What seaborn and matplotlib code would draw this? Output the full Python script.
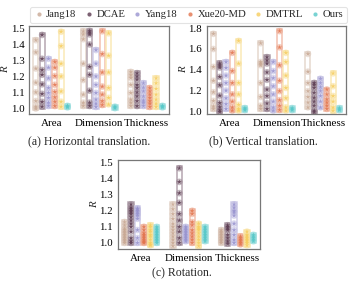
import numpy as np
import pandas as pd
import matplotlib
matplotlib.use("Agg")
import matplotlib.pyplot as plt
import seaborn as sns
from matplotlib.lines import Line2D

# --- 数据 ---
methods = ["Jang18", "DCAE", "Yang18", "Xue20-MD", "DMTRL", "Ours"]
groups = ["Area", "Dimension", "Thickness"]
colors = ["#c8a893", "#5b3a50", "#9893cf", "#e2744d", "#f6cd5e", "#56c8c8"]

# (a) Horizontal translation
h_area = [
    [1.427, 1.351, 1.249, 1.161, 1.100, 1.045, 1.010, 0.998],
    [1.46, 1.31, 1.24, 1.21, 1.15, 1.09, 1.04, 1.01],
    [1.31, 1.255, 1.188, 1.127, 1.096, 1.065, 1.035, 1.014],
    [1.29, 1.255, 1.202, 1.147, 1.102, 1.069, 1.041, 1.014],
    [1.48, 1.39, 1.28, 1.20, 1.106, 1.041, 1.01],
    [1.015, 1.01, 1.005],
]
h_dim = [
    [1.483, 1.463, 1.433, 1.28, 1.177, 1.086, 1.035, 1.014],
    [1.485, 1.475, 1.463, 1.40, 1.26, 1.21, 1.11, 1.035, 1.014],
    [1.365, 1.28, 1.20, 1.147, 1.096, 1.055, 1.029, 1.008],
    [1.483, 1.34, 1.225, 1.136, 1.086, 1.045, 1.02],
    [1.47, 1.33, 1.225, 1.127, 1.065, 1.024],
    [1.01, 1.005, 1.0],
]
h_thick = [
    [1.228, 1.208, 1.19, 1.147, 1.096, 1.055, 1.035, 1.014],
    [1.22, 1.20, 1.18, 1.147, 1.127, 1.10, 1.075, 1.045, 1.014],
    [1.157, 1.13, 1.106, 1.075, 1.049, 1.035, 1.014],
    [1.127, 1.106, 1.086, 1.065, 1.045, 1.029, 1.008],
    [1.188, 1.157, 1.122, 1.086, 1.055, 1.029, 1.008],
    [1.015, 1.01, 1.005],
]

# (b) Vertical translation
v_area = [
    [1.744, 1.598, 1.426, 1.293, 1.183, 1.099, 1.047, 1.021],
    [1.46, 1.44, 1.42, 1.33, 1.25, 1.15, 1.08, 1.04, 1.01, 0.995],
    [1.473, 1.417, 1.343, 1.271, 1.199, 1.125, 1.069, 1.022],
    [1.561, 1.386, 1.271, 1.162, 1.093, 1.037, 1.006],
    [1.676, 1.458, 1.271, 1.162, 1.062, 1.022, 1.006],
    [1.03, 1.02, 1.01],
]
v_dim = [
    [1.654, 1.473, 1.458, 1.442, 1.271, 1.137, 1.053, 1.022],
    [1.52, 1.489, 1.458, 1.374, 1.302, 1.209, 1.146, 1.075, 1.022],
    [1.473, 1.386, 1.318, 1.24, 1.162, 1.093, 1.037, 1.006],
    [1.77, 1.614, 1.442, 1.293, 1.193, 1.106, 1.053, 1.012],
    [1.561, 1.473, 1.343, 1.224, 1.125, 1.037, 1.006],
    [1.03, 1.02, 1.01],
]
v_thick = [
    [1.551, 1.38, 1.271, 1.193, 1.137, 1.084, 1.037],
    [1.272, 1.255, 1.224, 1.178, 1.131, 1.093, 1.053, 1.006, 0.99],
    [1.312, 1.271, 1.231, 1.193, 1.146, 1.093, 1.037],
    [1.209, 1.162, 1.115, 1.084, 1.053, 1.022],
    [1.364, 1.24, 1.146, 1.093, 1.037, 1.005],
    [1.03, 1.02, 1.01],
]

# (c) Rotation
r_area = [
    [1.13, 1.11, 1.09, 1.08, 1.07, 1.06, 1.05, 1.04, 1.03, 1.02, 1.01, 1.0],
    [1.24, 1.22, 1.21, 1.20, 1.19, 1.18, 1.16, 1.14, 1.12, 1.10, 1.07, 1.03, 1.01, 1.0],
    [1.215, 1.21, 1.20, 1.19, 1.18, 1.17, 1.15, 1.08, 1.03, 1.0],
    [1.10, 1.08, 1.06, 1.05, 1.04, 1.03, 1.02, 1.01, 1.005, 1.0],
    [1.11, 1.10, 1.08, 1.07, 1.05, 1.04, 1.02, 1.0, 0.99, 0.985],
    [1.10, 1.09, 1.08, 1.07, 1.06, 1.05, 1.04, 1.03, 1.02, 1.01, 1.0],
]
r_dim = [
    [1.24, 1.21, 1.18, 1.15, 1.12, 1.10, 1.08, 1.06, 1.04, 1.02, 1.0, 0.98],
    [1.465, 1.38, 1.31, 1.25, 1.18, 1.14, 1.10, 1.07, 1.03, 1.0],
    [1.10, 1.09, 1.08, 1.07, 1.06, 1.05, 1.04, 1.03, 1.02, 1.01],
    [1.20, 1.18, 1.13, 1.11, 1.08, 1.06, 1.04, 1.02, 1.0],
    [1.12, 1.10, 1.09, 1.08, 1.06, 1.04, 1.02, 1.0, 0.98],
    [1.10, 1.09, 1.08, 1.07, 1.06, 1.05, 1.04, 1.03, 1.02, 1.01],
]
r_thick = [
    [1.08, 1.07, 1.06, 1.05, 1.04, 1.03, 1.02, 1.01, 1.0],
    [1.11, 1.10, 1.09, 1.08, 1.05, 1.03, 1.01, 0.995],
    [1.24, 1.22, 1.20, 1.19, 1.17, 1.12, 1.08, 1.05, 1.02, 1.0],
    [1.04, 1.03, 1.02, 1.01, 1.0, 0.99],
    [1.07, 1.05, 1.04, 1.03, 1.02, 1.01, 1.0, 0.985],
    [1.05, 1.04, 1.03, 1.02, 1.01],
]

panels = [
    ("(a) Horizontal translation.", [h_area, h_dim, h_thick], (0.963, 1.515), [1.0, 1.1, 1.2, 1.3, 1.4, 1.5]),
    ("(b) Vertical translation.", [v_area, v_dim, v_thick], (0.972, 1.818), [1.0, 1.2, 1.4, 1.6, 1.8]),
    ("(c) Rotation.", [r_area, r_dim, r_thick], (0.962, 1.517), [1.0, 1.1, 1.2, 1.3, 1.4, 1.5]),
]


def to_frame(group_lists):
    rows = []
    for g, per_method in zip(groups, group_lists):
        for m, vals in zip(methods, per_method):
            for v in vals:
                rows.append({"group": g, "method": m, "R": v})
    return pd.DataFrame(rows)


def lighten(c, amt):
    rgb = np.array(matplotlib.colors.to_rgb(c))
    return tuple(rgb + (1 - rgb) * amt)


sns.set_style("white")
plt.rcParams['font.family'] = ['Liberation Serif', 'DejaVu Serif']
plt.rcParams['font.size'] = 7.7

fig = plt.figure(figsize=(3.49, 2.81), dpi=100)
axes_pos = [
    [0.084, 0.594, 0.400, 0.313],
    [0.593, 0.594, 0.398, 0.313],
    [0.338, 0.114, 0.407, 0.317],
]
caption_pos = [(0.255, 0.497), (0.755, 0.497), (0.52, 0.028)]

n = len(methods)
dodge_w = 0.8 / n
for (title, group_lists, ylim, yticks), pos, cap in zip(panels, axes_pos, caption_pos):
    ax = fig.add_axes(pos)
    df = to_frame(group_lists)
    pad = 0.022 * (ylim[1] - ylim[0])

    # 外框：从最小值到最大值的矩形
    for gi, g in enumerate(groups):
        for mi, m in enumerate(methods):
            vals = df[(df.group == g) & (df.method == m)]["R"]
            xc = gi - 0.4 + dodge_w * (mi + 0.5)
            ax.bar(xc, vals.max() - vals.min() + 2 * pad, bottom=vals.min() - pad,
                   width=dodge_w * 0.82, fill=False,
                   edgecolor=lighten(colors[mi], 0.55), linewidth=1.1, zorder=1)

    sns.stripplot(data=df, x="group", y="R", hue="method", order=groups, hue_order=methods,
                  palette=[lighten(c, 0.35) for c in colors], dodge=True, jitter=False,
                  size=4.8, alpha=0.55, linewidth=0, legend=False, ax=ax, zorder=2)
    sns.stripplot(data=df, x="group", y="R", hue="method", order=groups, hue_order=methods,
                  palette=colors, dodge=True, jitter=False, marker="*",
                  size=3.6, alpha=0.85, linewidth=0, legend=False, ax=ax, zorder=3)

    ax.set_xlim(-0.47, 2.47)
    ax.set_ylim(*ylim)
    ax.set_yticks(yticks)
    ax.set_yticklabels([f"{t:.1f}" for t in yticks], fontsize=7.8)
    ax.tick_params(axis="x", labelsize=7.9, length=2, width=0.6, pad=1.5, colors="#555555", labelcolor="black")
    ax.tick_params(axis="y", length=2, width=0.6, pad=1.5, colors="#555555", labelcolor="black")
    ax.set_xlabel("")
    ax.set_ylabel("R", fontstyle="italic", fontsize=7.8, labelpad=0.5)
    for s in ax.spines.values():
        s.set_color("#777777")
        s.set_linewidth(0.9)
    fig.text(cap[0], cap[1], title, ha="center", va="center", fontsize=8.5)

handles = [Line2D([], [], marker="o", linestyle="", markersize=3.0,
                  markerfacecolor=lighten(c, 0.2), markeredgewidth=0, label=m)
           for m, c in zip(methods, colors)]
leg = fig.legend(handles=handles, loc="upper center", bbox_to_anchor=(0.54, 0.995), ncol=6,
                 frameon=True, fontsize=7.7, handletextpad=0.2, columnspacing=0.65,
                 borderpad=0.3, handlelength=1.0)
leg.get_frame().set_edgecolor("#dddddd")
leg.get_frame().set_linewidth(0.8)

fig.savefig("out.png", dpi=100)
